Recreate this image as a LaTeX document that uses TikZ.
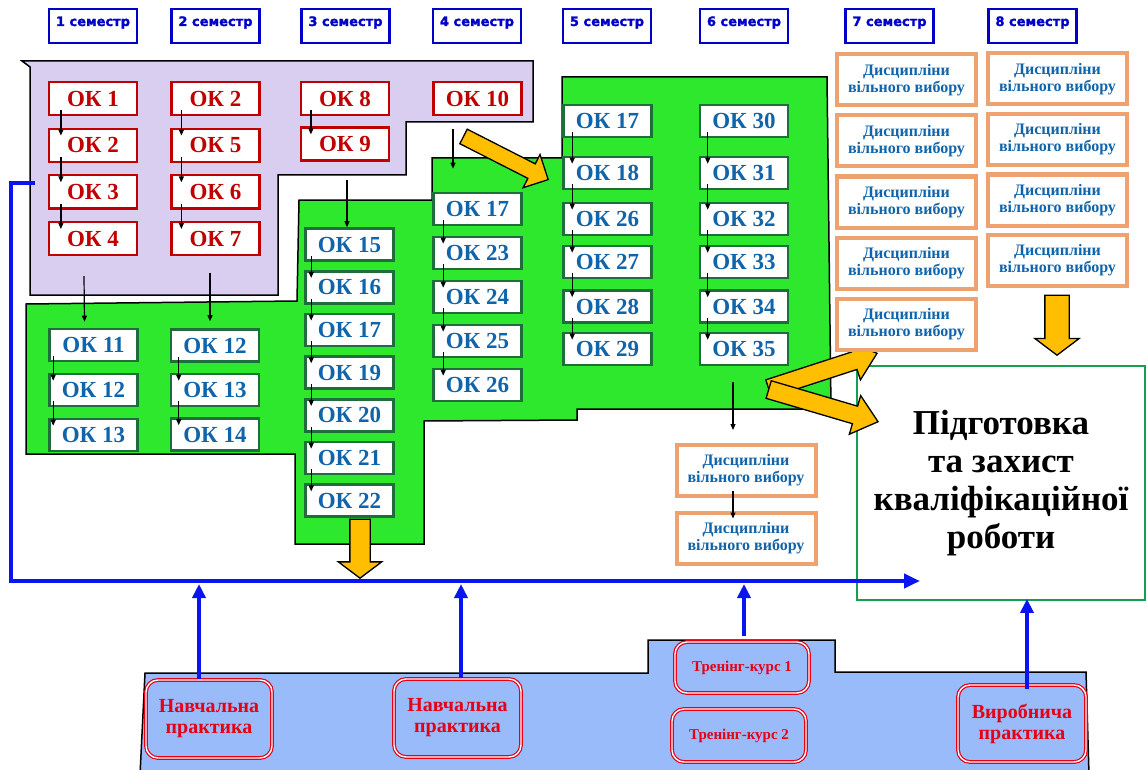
\documentclass[tikz,border=0pt]{standalone}
\usepackage{fontspec}
\setmainfont{Liberation Serif}
\setsansfont{Liberation Sans}
\newfontfamily\semfont{DejaVu Sans}[FakeBold=1.5]
\usetikzlibrary{arrows.meta,shapes.arrows}
\definecolor{lavender}{RGB}{217,206,240}
\definecolor{brightgreen}{RGB}{46,232,46}
\definecolor{paleblue}{RGB}{153,187,250}
\definecolor{okred}{RGB}{192,0,0}
\definecolor{okblue}{RGB}{16,100,170}
\definecolor{boxgreen}{RGB}{30,110,60}
\definecolor{choicetan}{RGB}{238,162,112}
\definecolor{semblue}{RGB}{0,0,200}
\definecolor{lineblue}{RGB}{10,20,240}
\definecolor{arrowyellow}{RGB}{255,190,0}
\definecolor{pracred}{RGB}{230,0,20}
\definecolor{thesisgreen}{RGB}{20,160,80}
\tikzset{
  okr/.style={draw=okred, line width=2.2pt, fill=white, text=okred, font=\bfseries\fontsize{23}{23}\selectfont, minimum width=88pt, minimum height=33pt, inner sep=0pt},
  okb/.style={okr, draw=boxgreen, line width=2.6pt, text=okblue, minimum height=32pt},
  choice/.style={draw=choicetan, line width=4pt, fill=white, text=okblue, font=\bfseries\fontsize{16}{17}\selectfont, align=center, minimum width=139pt, minimum height=51pt, inner sep=0pt},
  sem/.style={draw=semblue, line width=2.2pt, fill=white, text=semblue, font=\semfont\bfseries\fontsize{13}{13}\selectfont, minimum width=88pt, minimum height=34pt, inner sep=0pt, text height=11pt, text depth=11pt},
  prac/.style={draw=pracred, double=white, double distance=1.4pt, line width=1.2pt, rounded corners=12pt, text=pracred, font=\bfseries\fontsize{20}{21}\selectfont, align=center, inner sep=0pt},
  thesis/.style={draw=thesisgreen, line width=1.8pt, fill=white, font=\bfseries\fontsize{35}{38}\selectfont, align=center, minimum width=288pt, minimum height=234pt},
  arr/.style={line width=1.2pt, -{Triangle[length=6pt,width=5pt]}},
  bus/.style={draw=lineblue, line width=4.5pt},
  busarr/.style={draw=lineblue, line width=4pt, -{Triangle[length=14pt,width=13pt]}},
  yarrow/.style={single arrow, draw=black, line width=1.3pt, fill=arrowyellow, inner xsep=0pt, text height=0pt, text depth=0pt, minimum width=0pt, anchor=tip}
}
\begin{document}
\begin{tikzpicture}[x=1pt,y=-1pt]
        \fill[white] (0,0) rectangle (1147,770);
        \useasboundingbox (0,0) rectangle (1147,770);

        \draw[line width=1.5pt, fill=lavender] (22,61) -- (533,61) -- (533,122) -- (406,122) -- (406,175) -- (278,175) -- (278,295) -- (30,295) -- (30,67) -- cycle;
        \draw[line width=1.5pt, fill=brightgreen] (26,304) -- (297,301) -- (299,200) -- (432,200) -- (432,158) -- (562,158) -- (562,77) -- (827,77) -- (831,409) -- (577,409) -- (577,420) -- (424,421) -- (424,544) -- (295,544) -- (295,454) -- (26,454) -- cycle;
        \draw[line width=1.5pt, fill=paleblue] (145,673) -- (648,673) -- (648,640) -- (835,640) -- (835,672) -- (1086,672) -- (1089,775) -- (140,775) -- cycle;

        \node[thesis] (thesis) at (1001,483) {Підготовка\\та захист\\кваліфікаційної\\роботи};

        \coordinate (busstart) at (35,183);
        \coordinate (bus) at (11,581);
        \coordinate (busend) at (920,581);
        \coordinate (tap) at (0,584);
        \draw[bus, -{Triangle[length=16pt,width=14pt]}] (busstart) -- (busstart -| bus) -- (bus) -- (busend);

        \node[yarrow, inner ysep=7.5pt, single arrow head extend=10.5pt, minimum height=95pt, rotate=-27] (y1) at (549,180) {};
        \node[yarrow, inner ysep=9.5pt, single arrow head extend=11.5pt, single arrow tip angle=106, minimum height=59pt, rotate=-90] (y2) at (360,579) {};
        \node[yarrow, inner ysep=11.5pt, single arrow head extend=10pt, single arrow tip angle=106, minimum height=60pt, rotate=-90] (y3) at (1057,356) {};
        \node[yarrow, inner ysep=8.5pt, single arrow head extend=11pt, single arrow tip angle=80, minimum height=114pt, rotate=18] (y4) at (878,353) {};
        \node[yarrow, inner ysep=8.5pt, single arrow head extend=11pt, single arrow tip angle=80, minimum height=114pt, rotate=-16.4] (y5) at (879,422) {};

        \foreach \x [count=\i] in {93,215.5,345.5,477,607,744,889.5,1032.5}
          \node[sem] (s\i) at (\x,26) {\i\ семестр};

        \foreach \n [count=\i] in {1,2,3,4}
          \node[okr] (a\i) at (93,{98.5+46.7*(\i-1)}) {ОК \n};
        \foreach \n [count=\i] in {2,5,6,7}
          \node[okr] (b\i) at (215.5,{98.5+46.7*(\i-1)}) {ОК \n};
        \foreach \n [count=\i] in {8,9}
          \node[okr] (c\i) at (345,{98.5+45.5*(\i-1)}) {ОК \n};
        \node[okr] (d1) at (477.5,98.5) {ОК 10};

        \foreach \n [count=\i] in {11,12,13}
          \node[okb] (e\i) at (93.5,{345+45*(\i-1)}) {ОК \n};
        \foreach \n [count=\i] in {12,13,14}
          \node[okb] (f\i) at (215,{345.5+44.5*(\i-1)}) {ОК \n};
        \foreach \n [count=\i] in {15,16,17,19,20,21,22}
          \node[okb] (g\i) at (349.5,{244.5+42.7*(\i-1)}) {ОК \n};
        \foreach \n [count=\i] in {17,23,24,25,26}
          \node[okb] (h\i) at (477.5,{209+44*(\i-1)}) {ОК \n};
        \foreach \n/\y [count=\i] in {17/121,18/173,26/219,27/262,28/306.5,29/349}
          \node[okb] (i\i) at (607.5,\y) {ОК \n};
        \foreach \n/\y [count=\i] in {30/121,31/173,32/219,33/262,34/306.5,35/349}
          \node[okb] (j\i) at (744,\y) {ОК \n};

        \foreach \y [count=\i] in {80,141,202,263,324}
          \node[choice] (v\i) at (906.5,\y) {Дисципліни\\вільного вибору};
        \foreach \y [count=\i] in {79,139.5,200,260.5}
          \node[choice] (w\i) at (1057.5,\y) {Дисципліни\\вільного вибору};
        \node[choice] (u1) at (746,470.5) {Дисципліни\\вільного вибору};
        \node[choice] (u2) at (746,538) {Дисципліни\\вільного вибору};

        \node[prac, minimum width=126pt, minimum height=78pt] (p1) at (209,719) {Навчальна\\практика};
        \node[prac, minimum width=127pt, minimum height=78pt] (p2) at (457.5,718) {Навчальна\\практика};
        \node[prac, minimum width=134pt, minimum height=51pt, font=\bfseries\fontsize{15}{17}\selectfont] (t1) at (742,667.5) {Тренінг-курс 1};
        \node[prac, minimum width=134pt, minimum height=53pt, font=\bfseries\fontsize{15}{17}\selectfont] (t2) at (739,735.5) {Тренінг-курс 2};
        \node[prac, minimum width=128pt, minimum height=77pt] (vyr) at (1022,723.5) {Виробнича\\практика};

        \foreach \c/\n/\o in {a/4/13,b/4/11,c/2/11,e/3/5,f/3/9,g/7/7,h/5/11,i/6/10,j/6/9}
          \foreach \k [remember=\k as \p (initially 1)] in {2,...,\n}
            \draw[arr] ([xshift=\o pt,yshift=6pt]\c\p.south west) -- ([xshift=\o pt,yshift=-8pt]\c\k.north west);

        \draw[arr] ([xshift=-9pt,yshift=-20pt]a4.south) -- ([xshift=-9pt,yshift=6pt]e1.north);
        \draw[arr] ([xshift=-5.5pt,yshift=-17pt]b4.south) -- ([xshift=-5pt,yshift=7pt]f1.north);
        \draw[arr] ([xshift=2pt,yshift=-18pt]c2.south) -- ([xshift=2pt]c2.south |- g1.north);
        \draw[arr] ([xshift=-24.5pt,yshift=-13pt]d1.south) -- ([xshift=-24.5pt,yshift=23pt]h1.north);
        \draw[arr] ([xshift=-11pt,yshift=-16pt]j6.south) -- ([xshift=-11pt,yshift=13pt]j6.south |- u1.north);
        \draw[arr] ([xshift=-13pt,yshift=7pt]u1.south) -- ([xshift=-13pt,yshift=-8pt]u2.north);

        \draw[busarr] ([xshift=-10pt]p1.north) -- ([xshift=-10pt]p1.north |- tap);
        \draw[busarr] ([xshift=3.5pt]p2.north) -- ([xshift=3.5pt]p2.north |- tap);
        \draw[busarr] ([xshift=2pt,yshift=5pt]t1.north) -- ([xshift=2pt]t1.north |- tap);
        \draw[busarr] ([xshift=5pt,yshift=-5pt]vyr.north) -- ([xshift=5pt,yshift=2pt]vyr.north |- thesis.south);
      \end{tikzpicture}
\end{document}
